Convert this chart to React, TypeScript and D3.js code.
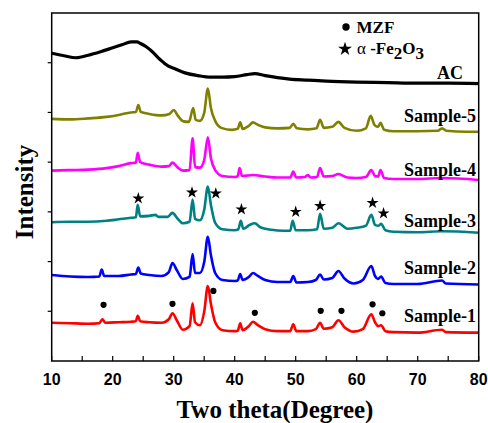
import { useRef, useEffect } from 'react';
import * as d3 from 'd3';

const W = 488;
const H = 423;
const MARGIN = { top: 13, right: 9.3, bottom: 62, left: 51.7 };

// 2θ (deg), intensity (a.u., offset stacked)
const acData: [number, number][] = [
  [10, 6.19], [12, 6.14], [14, 6.1], [16, 6.15], [18, 6.22], [20, 6.3], [21.5, 6.36],
  [23, 6.42], [24, 6.42], [24.5, 6.39], [25.5, 6.32], [26.5, 6.22], [27.8, 6.06],
  [29, 5.94], [30, 5.89], [32, 5.79], [34, 5.74], [36, 5.71], [38, 5.71], [40, 5.72],
  [42, 5.76], [43.3, 5.78], [45, 5.74], [47, 5.7], [49, 5.67], [52, 5.65], [55, 5.63],
  [60, 5.61], [65, 5.6], [70, 5.59], [75, 5.59], [80, 5.58],
];

const sample5: [number, number][] = [
  [10, 4.87], [13, 4.86], [16, 4.88], [19, 4.91], [21, 4.95], [23, 5.0], [23.8, 5.01],
  [24.2, 5.15], [24.6, 5.01], [26, 4.97], [28, 4.94], [29.3, 4.97], [30, 5.05], [30.7, 4.93],
  [31.6, 4.82], [32.5, 4.81], [33.2, 5.09], [33.6, 4.85], [34.3, 4.83], [35, 4.99],
  [35.6, 5.48], [36.1, 5.09], [36.8, 4.83], [37.8, 4.69], [39.5, 4.65], [40.5, 4.67],
  [40.9, 4.8], [41.3, 4.67], [42.3, 4.73], [43, 4.8], [43.8, 4.75], [45, 4.7], [47, 4.68],
  [49, 4.69], [49.6, 4.77], [50.2, 4.68], [52, 4.66], [53.4, 4.68], [54, 4.85], [54.6, 4.69],
  [56, 4.71], [57, 4.81], [58, 4.69], [60, 4.63], [61.5, 4.68], [62.3, 4.93], [62.9, 4.75],
  [63.5, 4.71], [63.9, 4.79], [64.5, 4.65], [66, 4.62], [70, 4.62], [73.3, 4.63],
  [74, 4.68], [74.7, 4.63], [78, 4.61], [80, 4.61],
];

const sample4: [number, number][] = [
  [10, 3.83], [13, 3.84], [16, 3.85], [19, 3.88], [21, 3.92], [23, 3.98], [23.8, 3.99],
  [24.1, 4.19], [24.5, 4.0], [26, 3.95], [28, 3.91], [29.2, 3.92], [29.8, 3.99], [30.6, 3.9],
  [31.5, 3.83], [32.6, 3.84], [33.1, 4.48], [33.5, 3.9], [34.3, 3.89], [35, 4.04],
  [35.6, 4.5], [36.1, 4.08], [36.8, 3.84], [38, 3.72], [40, 3.7], [40.5, 3.72], [40.8, 3.88],
  [41.2, 3.72], [43, 3.74], [45, 3.71], [47, 3.69], [49.1, 3.69], [49.6, 3.81], [50.1, 3.69],
  [51.5, 3.7], [52, 3.74], [52.5, 3.69], [53.5, 3.7], [54, 3.88], [54.6, 3.71], [56, 3.72],
  [57, 3.76], [58.5, 3.69], [60, 3.68], [61.5, 3.7], [62.4, 3.84], [63, 3.72], [63.5, 3.71],
  [63.9, 3.84], [64.5, 3.68], [66, 3.66], [70, 3.66], [74, 3.68], [80, 3.64],
];

const sample3: [number, number][] = [
  [10, 2.79], [13, 2.8], [16, 2.8], [19, 2.82], [21, 2.85], [23, 2.88], [23.8, 2.89],
  [24.1, 3.14], [24.5, 2.91], [26, 2.92], [27, 2.94], [27.5, 2.9], [29, 2.9], [29.8, 2.98],
  [30.6, 2.87], [31.5, 2.77], [32.6, 2.8], [33.1, 3.25], [33.5, 2.86], [34.3, 2.83],
  [35, 3.04], [35.6, 3.51], [36.1, 3.14], [36.8, 2.78], [38, 2.65], [40, 2.63], [40.6, 2.65],
  [41, 2.82], [41.4, 2.66], [42.5, 2.74], [43.3, 2.77], [44.2, 2.69], [46, 2.64], [48, 2.62],
  [49.1, 2.62], [49.5, 2.82], [50, 2.63], [52, 2.63], [53.5, 2.65], [54, 2.96], [54.6, 2.66],
  [56, 2.68], [57, 2.77], [58.5, 2.66], [60, 2.68], [61.5, 2.72], [62.4, 2.94], [63, 2.74],
  [63.6, 2.72], [64, 2.76], [64.7, 2.63], [66, 2.6], [70, 2.59], [74, 2.61], [80, 2.58],
];

const sample2: [number, number][] = [
  [10, 1.73], [13, 1.7], [16, 1.69], [17.8, 1.7], [18.2, 1.84], [18.6, 1.71], [21, 1.71],
  [23, 1.74], [23.8, 1.75], [24.2, 1.88], [24.6, 1.76], [26, 1.73], [28, 1.71], [29.2, 1.79],
  [29.8, 1.97], [30.5, 1.83], [31.5, 1.65], [32.6, 1.69], [33.1, 2.15], [33.5, 1.77],
  [34.3, 1.77], [35, 1.99], [35.6, 2.5], [36.1, 2.13], [36.8, 1.77], [38, 1.63], [40, 1.61],
  [40.5, 1.62], [40.9, 1.75], [41.3, 1.63], [42.3, 1.69], [43, 1.77], [43.8, 1.71], [45, 1.63],
  [47, 1.59], [49.1, 1.59], [49.6, 1.71], [50.1, 1.58], [52, 1.59], [53.3, 1.63], [54, 1.74],
  [54.6, 1.64], [56, 1.67], [57, 1.81], [58, 1.66], [59.5, 1.56], [61, 1.63], [62.4, 1.91],
  [63, 1.71], [63.5, 1.65], [64, 1.7], [64.7, 1.57], [66, 1.55], [70, 1.55], [74, 1.62],
  [74.6, 1.56], [80, 1.54],
];

const sample1: [number, number][] = [
  [10, 0.77], [13, 0.76], [16, 0.75], [17.8, 0.76], [18.3, 0.84], [18.8, 0.77], [21, 0.78],
  [23, 0.79], [23.8, 0.8], [24.1, 0.91], [24.5, 0.8], [26, 0.78], [28, 0.77], [29.2, 0.84],
  [29.8, 0.96], [30.5, 0.82], [31.5, 0.63], [32.6, 0.7], [33.1, 1.16], [33.5, 0.78],
  [34.3, 0.72], [35, 0.99], [35.6, 1.51], [36.1, 1.15], [36.8, 0.78], [38, 0.62], [40, 0.6],
  [40.5, 0.61], [40.9, 0.76], [41.3, 0.62], [42.3, 0.7], [43, 0.79], [43.8, 0.72], [45, 0.64],
  [47, 0.6], [49.1, 0.6], [49.6, 0.74], [50.1, 0.6], [52, 0.6], [53.3, 0.64], [54, 0.77],
  [54.6, 0.65], [56, 0.68], [57, 0.82], [58, 0.68], [59.5, 0.59], [61, 0.64], [62.4, 0.94],
  [63, 0.78], [63.5, 0.7], [64, 0.72], [64.7, 0.6], [66, 0.58], [70, 0.57], [74, 0.63],
  [74.6, 0.58], [80, 0.57],
];

const seriesNames = ['AC', 'Sample-5', 'Sample-4', 'Sample-3', 'Sample-2', 'Sample-1'];
const seriesData = [acData, sample5, sample4, sample3, sample2, sample1];
const seriesColors = ['#000000', '#808000', '#ff00ff', '#008080', '#0000ff', '#ff0000'];
const labelLevels = [5.68, 4.81, 3.72, 2.69, 1.75, 0.79];

// peak markers
const starPeaks: [number, number][] = [
  [24.2, 3.27], [33.0, 3.39], [36.9, 3.37], [41.1, 3.05], [50.0, 3.0], [54.0, 3.12], [62.6, 3.18], [64.4, 2.97],
];
const dotPeaks: [number, number][] = [
  [18.5, 1.13], [29.8, 1.15], [36.5, 1.41], [43.3, 0.97], [54.1, 1.01], [57.5, 1.01], [62.6, 1.14], [64.2, 0.96],
];

const xTicks = [10, 20, 30, 40, 50, 60, 70, 80];
const xMinor = [15, 25, 35, 45, 55, 65, 75];
const yTicks = [1, 2, 3, 4, 5, 6];

const SERIF = '"Liberation Serif", "Times New Roman", serif';
const SANS = '"Liberation Sans", Arial, sans-serif';

export default function App() {
  const svgRef = useRef<SVGSVGElement>(null);

  useEffect(() => {
    const svg = d3.select(svgRef.current);
    svg.selectAll('*').remove();

    const x = d3.scaleLinear().domain([10, 80]).range([MARGIN.left, W - MARGIN.right]);
    const y = d3.scaleLinear().domain([0, 7]).range([H - MARGIN.bottom, MARGIN.top]);

    const g = svg.append('g');

    // series
    const line = d3.line<[number, number]>()
      .x(d => x(d[0]))
      .y(d => y(d[1]))
      .curve(d3.curveMonotoneX);

    seriesData.forEach((d, i) => {
      g.append('path')
        .datum(d)
        .attr('d', line)
        .attr('fill', 'none')
        .attr('stroke', seriesColors[i])
        .attr('stroke-width', i === 0 ? 3.2 : 2.6)
        .attr('stroke-linejoin', 'round');
    });

    // frame
    g.append('rect')
      .attr('x', x(10)).attr('y', y(7))
      .attr('width', x(80) - x(10)).attr('height', y(0) - y(7))
      .attr('fill', 'none').attr('stroke', '#000').attr('stroke-width', 1.5);

    // x ticks (inward)
    g.selectAll('.xt')
      .data([...xTicks, ...xMinor])
      .join('line')
      .attr('x1', d => x(d)).attr('x2', d => x(d))
      .attr('y1', y(0)).attr('y2', y(0) - 5)
      .attr('stroke', '#000').attr('stroke-width', 1.2);

    g.selectAll('.xl')
      .data(xTicks)
      .join('text')
      .attr('x', d => x(d))
      .attr('y', y(0) + 23.5)
      .attr('text-anchor', 'middle')
      .attr('font-family', SANS)
      .attr('font-weight', 'bold')
      .attr('font-size', 16)
      .text(d => d);

    // y ticks (outward)
    g.selectAll('.yt')
      .data(yTicks)
      .join('line')
      .attr('x1', x(10)).attr('x2', x(10) - 4)
      .attr('y1', d => y(d)).attr('y2', d => y(d))
      .attr('stroke', '#000').attr('stroke-width', 1.2);

    // axis titles
    svg.append('text')
      .attr('x', 275).attr('y', 417.5)
      .attr('text-anchor', 'middle')
      .attr('font-family', SERIF).attr('font-weight', 'bold').attr('font-size', 25)
      .text('Two theta(Degree)');

    svg.append('text')
      .attr('transform', 'translate(33,192) rotate(-90)')
      .attr('text-anchor', 'middle')
      .attr('font-family', SERIF).attr('font-weight', 'bold').attr('font-size', 25)
      .text('Intensity');

    // series labels
    g.selectAll('.lab')
      .data(seriesNames)
      .join('text')
      .attr('x', (_, i) => (i === 0 ? 463 : 476))
      .attr('y', (_, i) => y(labelLevels[i]))
      .attr('text-anchor', 'end')
      .attr('font-family', SERIF).attr('font-weight', 'bold').attr('font-size', 18)
      .text(d => d);

    // markers
    const star = d3.symbol().type(d3.symbolStar).size(45);
    g.selectAll('.star')
      .data(starPeaks)
      .join('path')
      .attr('d', star)
      .attr('transform', d => `translate(${x(d[0])},${y(d[1])})`)
      .attr('fill', '#000');

    g.selectAll('.dot')
      .data(dotPeaks)
      .join('circle')
      .attr('cx', d => x(d[0])).attr('cy', d => y(d[1]))
      .attr('r', 3.1)
      .attr('fill', '#000');

    // legend
    const lg = svg.append('g');
    lg.append('circle').attr('cx', 346).attr('cy', 27).attr('r', 3.7).attr('fill', '#000');
    lg.append('text')
      .attr('x', 356.5).attr('y', 33.3)
      .attr('font-family', SERIF).attr('font-weight', 'bold').attr('font-size', 17)
      .text('MZF');
    lg.append('path')
      .attr('d', d3.symbol().type(d3.symbolStar).size(60)())
      .attr('transform', 'translate(345,49)')
      .attr('fill', '#000');
    const t = lg.append('text')
      .attr('x', 357).attr('y', 53.5)
      .attr('font-family', SERIF).attr('font-weight', 'bold').attr('font-size', 17);
    t.append('tspan').attr('font-weight', 'normal').text('α');
    t.append('tspan').text(' -Fe');
    t.append('tspan').attr('dy', 5).text('2');
    t.append('tspan').attr('dy', -5).text('O');
    t.append('tspan').attr('dy', 5).text('3');
  }, []);

  return (
    <svg
      ref={svgRef}
      width={W}
      height={H}
      style={{ position: 'absolute', left: 0, top: 0, background: '#fff' }}
    />
  );
}
